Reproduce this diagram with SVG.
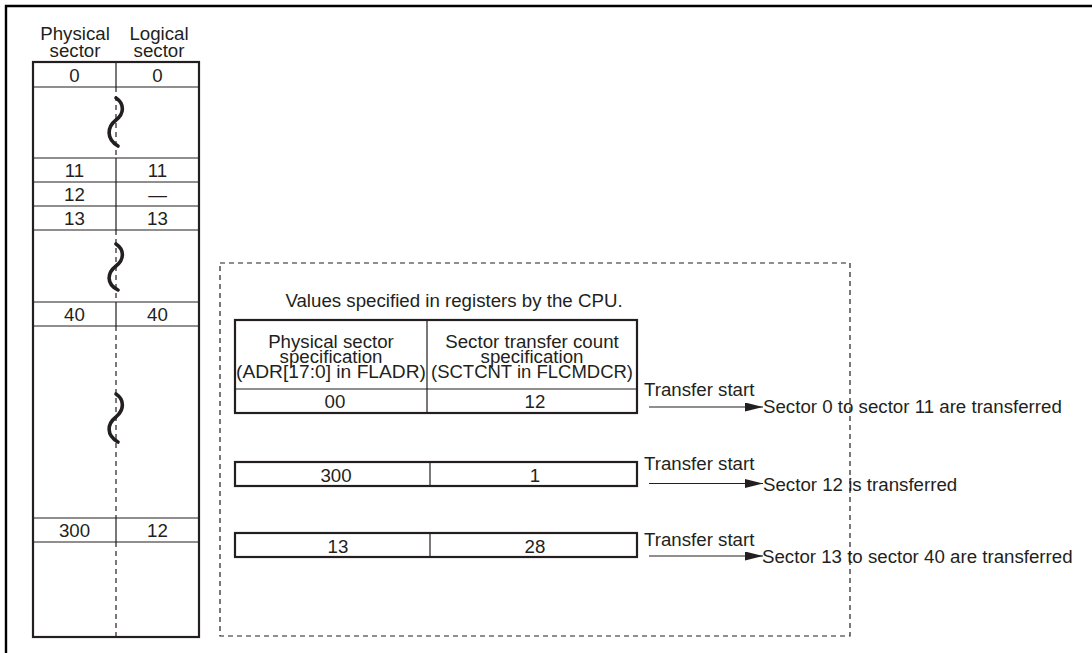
<svg xmlns="http://www.w3.org/2000/svg" width="1092" height="653" viewBox="0 0 1092 653">
<defs>
<style>
text{font-family:"Liberation Sans",Arial,sans-serif;font-size:18.7px;fill:#231f20}
.c{text-anchor:middle}
.thick{fill:none;stroke:#231f20;stroke-width:2.2}
.thin{fill:none;stroke:#231f20;stroke-width:1.2}
.dash{fill:none;stroke:#231f20;stroke-width:1.2;stroke-dasharray:5 4}
.sq{fill:none;stroke:#231f20;stroke-width:3.6;stroke-linecap:round}
.arr{fill:none;stroke:#231f20;stroke-width:1.2}
</style>
<marker id="ah" markerUnits="userSpaceOnUse" markerWidth="18" markerHeight="9" refX="18" refY="4.5" orient="auto">
<path d="M0,0 L18,4.5 L0,9 Z" fill="#231f20"/>
</marker>
</defs>
<rect width="1092" height="653" fill="#fff"/>
<g id="frame">
<path d="M6,653 V6 H1092" fill="none" stroke="#000" stroke-width="2.4"/>
</g>
<g id="sector-table">
<text class="c" x="75" y="40">Physical</text>
<text class="c" x="75" y="57">sector</text>
<text class="c" x="159" y="40">Logical</text>
<text class="c" x="159" y="57">sector</text>
<rect class="thick" x="33" y="62" width="166" height="575"/>
<path class="thin" d="M33,87 H199 M33,158 H199 M33,182 H199 M33,206 H199 M33,230 H199 M33,302 H199 M33,326 H199 M33,518 H199 M33,542 H199"/>
<path class="thin" d="M116,62 V87 M116,158 V230 M116,302 V326 M116,518 V542"/>
<path class="dash" d="M116,87 V158 M116,230 V302 M116,326 V518 M116,542 V637"/>
<path class="sq" d="M116,98 C125,104 124,114 116,120 C107,127 106,139 118,146"/>
<path class="sq" d="M116,244 C125,250 124,260 116,266 C107,273 106,284 118,290"/>
<path class="sq" d="M116,394 C125,400 124,410 116,417 C107,424 106,435 118,442"/>
<text class="c" x="74.5" y="82">0</text>
<text class="c" x="157.5" y="82">0</text>
<text class="c" x="74.5" y="177">11</text>
<text class="c" x="157.5" y="177">11</text>
<text class="c" x="74.5" y="201">12</text>
<text class="c" x="157.5" y="201">—</text>
<text class="c" x="74.5" y="225">13</text>
<text class="c" x="157.5" y="225">13</text>
<text class="c" x="74.5" y="321">40</text>
<text class="c" x="157.5" y="321">40</text>
<text class="c" x="74.5" y="537">300</text>
<text class="c" x="157.5" y="537">12</text>
</g>
<g id="cpu-area">
<rect class="dash" x="220" y="263" width="630" height="373"/>
<text class="c" x="454" y="307">Values specified in registers by the CPU.</text>
</g>
<g id="reg-box-1">
<rect class="thick" x="235" y="320" width="402" height="93"/>
<path class="thin" d="M235,389 H637 M427,320 V413"/>
<text class="c" x="331" y="347.5">Physical sector</text>
<text class="c" x="331" y="362.5">specification</text>
<text class="c" x="331" y="377.5" textLength="190" lengthAdjust="spacingAndGlyphs">(ADR[17:0] in FLADR)</text>
<text class="c" x="532" y="347.5">Sector transfer count</text>
<text class="c" x="532" y="362.5">specification</text>
<text class="c" x="532" y="377.5" textLength="202" lengthAdjust="spacingAndGlyphs">(SCTCNT in FLCMDCR)</text>
<text class="c" x="335" y="408">00</text>
<text class="c" x="535" y="408">12</text>
</g>
<g id="reg-box-2">
<rect class="thick" x="235" y="462" width="402" height="24"/>
<path class="thin" d="M430,462 V486"/>
<text class="c" x="336" y="482">300</text>
<text class="c" x="535" y="482">1</text>
</g>
<g id="reg-box-3">
<rect class="thick" x="235" y="533" width="402" height="24"/>
<path class="thin" d="M430,533 V557"/>
<text class="c" x="338" y="553">13</text>
<text class="c" x="535" y="553">28</text>
</g>
<g id="connectors">
<path class="arr" d="M649,407 H763" marker-end="url(#ah)"/>
<path class="arr" d="M649,483.5 H763" marker-end="url(#ah)"/>
<path class="arr" d="M649,556 H763" marker-end="url(#ah)"/>
</g>
<g id="labels">
<text x="644" y="396">Transfer start</text>
<text x="763" y="413">Sector 0 to sector 11 are transferred</text>
<text x="644" y="470">Transfer start</text>
<text x="763" y="491">Sector 12 is transferred</text>
<text x="644" y="546">Transfer start</text>
<text x="762" y="563">Sector 13 to sector 40 are transferred</text>
</g>
</svg>
